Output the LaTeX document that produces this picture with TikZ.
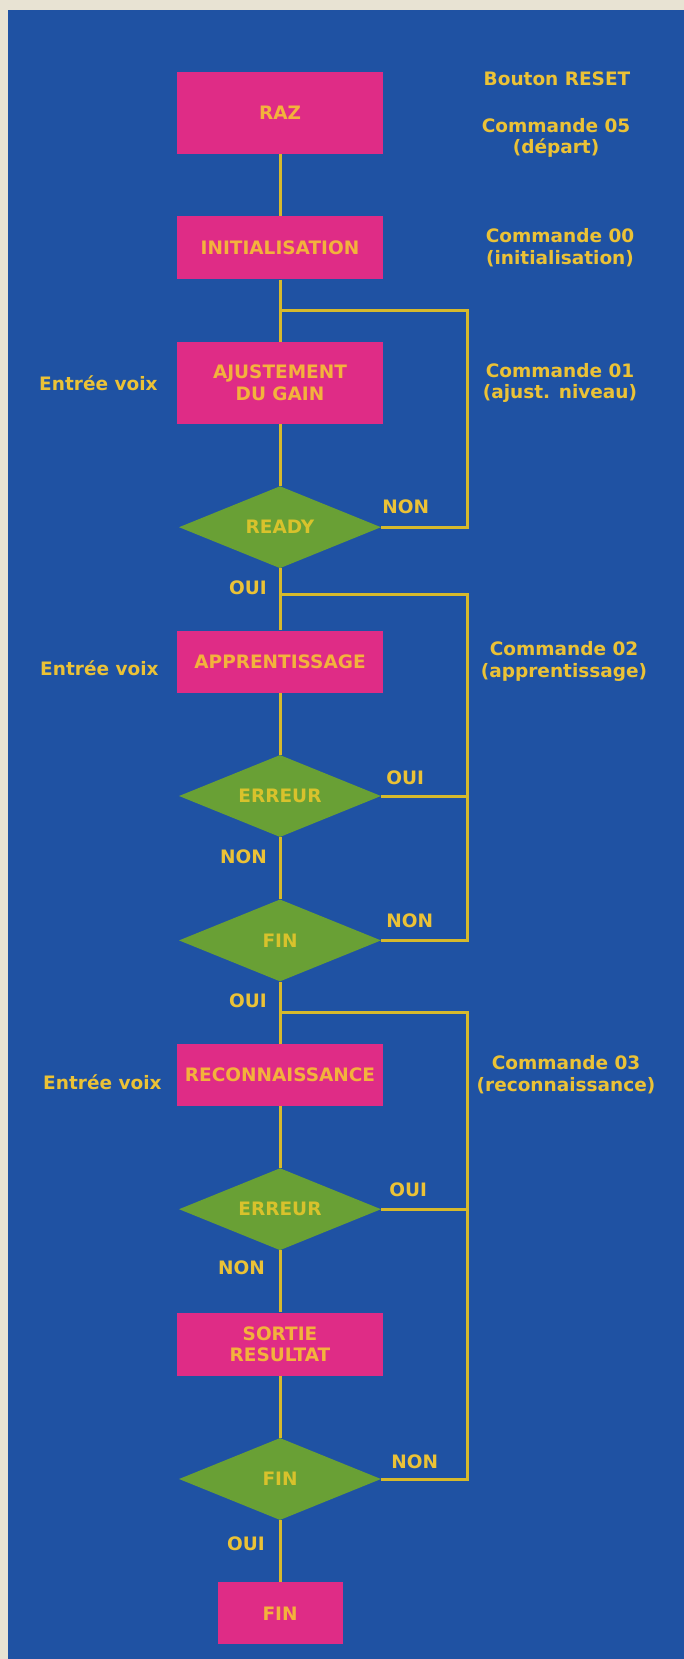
\documentclass[tikz,border=0pt]{standalone}
\usepackage{fontspec}
\setmainfont{DejaVu Sans}
\usepackage{tikz}
\usetikzlibrary{positioning, shapes.geometric, calc}
\definecolor{papier}{HTML}{E8E3D3}
\definecolor{fondbleu}{HTML}{1F52A3}
\definecolor{rose}{HTML}{DF2C86}
\definecolor{vert}{HTML}{69A035}
\definecolor{jaune}{HTML}{EBC236}
\definecolor{orjaune}{HTML}{F3B23C}
\definecolor{jaunevert}{HTML}{D8C22C}
\definecolor{ligne}{HTML}{D6B92C}

\begin{document}
\begin{tikzpicture}[
    x=1pt, y=1pt,
    node distance=62pt,
    txt/.style={font=\bfseries\fontsize{18.5pt}{21.5pt}\selectfont},
    etape/.style={rectangle, fill=rose, minimum width=206pt, minimum height=#1, inner sep=2pt, align=center, text=orjaune, txt},
    etape/.default=63pt,
    choix/.style={diamond, aspect=2.5, fill=vert, minimum width=202pt, minimum height=82pt, inner sep=0pt, text=jaunevert, txt},
    lien/.style={draw=ligne, line width=3pt},
    rep/.style={inner sep=0pt, text=jaune, txt},
    cmd/.style={align=center, inner sep=0pt, text=jaune, txt},
]
    % fond
    \useasboundingbox (0,0) rectangle (684,-1659);
    \fill[papier] (0,0) rectangle (684,-1659);
    \fill[fondbleu] (8,-10) rectangle (684,-1659);

    \node[etape=82pt] (raz) at (280,-113) {RAZ};
    \node[etape, below=of raz] (init) {INITIALISATION};
    \node[etape=82pt, below=of init] (ajust) {AJUSTEMENT\\DU GAIN};
    \node[choix, below=of ajust] (ready) {READY};
    \node[etape=62pt, below=of ready] (app) {APPRENTISSAGE};
    \node[choix, below=of app] (err1) {ERREUR};
    \node[choix, below=of err1] (fin1) {FIN};
    \node[etape=62pt, below=of fin1] (recon) {RECONNAISSANCE};
    \node[choix, below=of recon] (err2) {ERREUR};
    \node[etape, below=of err2] (sortie) {SORTIE\\RESULTAT};
    \node[choix, below=of sortie] (fin2) {FIN};
    \node[etape=62pt, minimum width=125pt, below=of fin2] (fin) {FIN};

    \draw[lien] (raz) -- (init);
    \draw[lien] (init) -- (ajust);
    \draw[lien] (ajust) -- (ready);
    \draw[lien] (ready) -- (app);
    \draw[lien] (app) -- (err1);
    \draw[lien] (err1) -- (fin1);
    \draw[lien] (fin1) -- (recon);
    \draw[lien] (recon) -- (err2);
    \draw[lien] (err2) -- (sortie);
    \draw[lien] (sortie) -- (fin2);
    \draw[lien] (fin2) -- (fin);

    % boucles de retour
    \coordinate (b1) at ($(init.south)!0.5!(ajust.north)$);
    \coordinate (b2) at ($(ready.south)!0.42!(app.north)$);
    \coordinate (b3) at ($(fin1.south)!0.5!(recon.north)$);
    \coordinate (d1) at ($(b1)+(187,0)$);
    \coordinate (d2) at ($(b2)+(187,0)$);
    \coordinate (d3) at ($(b3)+(187,0)$);
    \draw[lien] (ready.east) -| (d1) -- (b1);
    \draw[lien] (fin1.east) -| (d2) -- (b2);
    \draw[lien] (err1.east) -- (err1.east -| d2);
    \draw[lien] (fin2.east) -| (d3) -- (b3);
    \draw[lien] (err2.east) -- (err2.east -| d3);

    % OUI / NON
    \node[rep, above right=13pt and 1pt of ready.east] (r1) {NON};
    \node[rep, below left=12pt and 13pt of ready.south] (r2) {OUI};
    \node[rep, above right=11pt and 5pt of err1.east] (r3) {OUI};
    \node[rep, below left=12pt and 13pt of err1.south] (r4) {NON};
    \node[rep, above right=12pt and 5pt of fin1.east] (r5) {NON};
    \node[rep, below left=12pt and 13pt of fin1.south] (r6) {OUI};
    \node[rep, above right=12pt and 8pt of err2.east] (r7) {OUI};
    \node[rep, below left=10pt and 15pt of err2.south] (r8) {NON};
    \node[rep, above right=10pt and 10pt of fin2.east] (r9) {NON};
    \node[rep, below left=16pt and 15pt of fin2.south] (r10) {OUI};

    % entrees
    \node[rep, left=19pt of ajust] (ev1) {Entrée voix};
    \node[rep, left=18pt of app, yshift=-7pt] (ev2) {Entrée voix};
    \node[rep, left=15pt of recon, yshift=-7pt] (ev3) {Entrée voix};

    % commandes
    \coordinate (colR) at (560,0);
    \node[cmd] (reset) at ($(raz -| colR)+(-3,34)$) {Bouton RESET};
    \node[cmd] (c05) at ($(raz -| colR)+(-4,-25)$) {Commande 05\\(départ)};
    \node[cmd] (c00) at (init -| colR) {Commande 00\\(initialisation)};
    \node[cmd] (c01) at (ajust -| colR) {Commande 01\\(ajust. niveau)};
    \node[cmd] (c02) at ($(app -| colR)+(4,0)$) {Commande 02\\(apprentissage)};
    \node[cmd] (c03) at ($(recon -| colR)+(6,0)$) {Commande 03\\(reconnaissance)};
\end{tikzpicture}
\end{document}
